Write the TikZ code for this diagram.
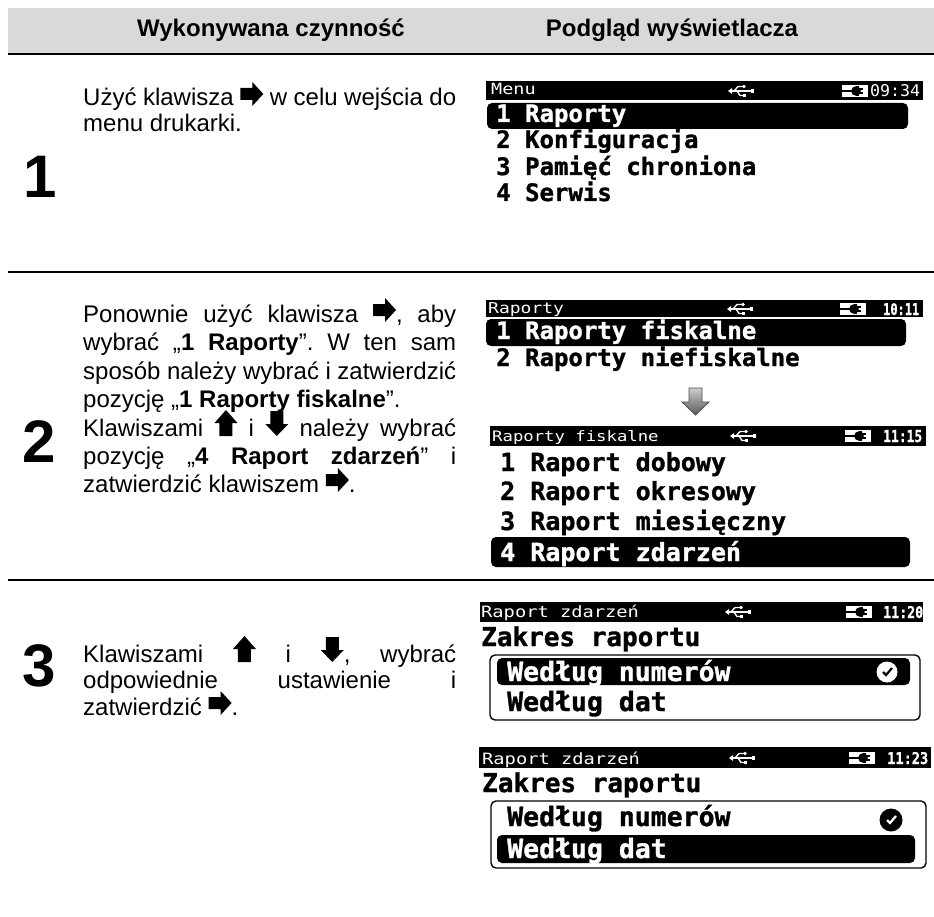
\documentclass[tikz,border=0pt]{standalone}
\usepackage{fontspec}
\usepackage{graphicx}
\setmainfont{Liberation Sans}
\newfontfamily\lcd[BoldFeatures={FakeBold=1.2}]{DejaVu Sans Mono}
\newfontfamily\lcdt[FakeStretch=1.2]{DejaVu Sans Mono}
\newcommand{\arR}{\tikz[baseline=-12pt,x=1pt,y=1pt]\fill[black] (-11,-6)--(1,-6)--(1,-12)--(12,0)--(1,12)--(1,6)--(-11,6)--cycle;}
\newcommand{\arU}{\tikz[baseline=0pt,x=1pt,y=1pt]\fill[black] (-6.5,0)--(-6.5,13)--(-11.5,13)--(0,26)--(11.5,13)--(6.5,13)--(6.5,0)--cycle;}
\newcommand{\arD}{\tikz[baseline=0pt,x=1pt,y=1pt]\fill[black] (-6.5,25)--(-6.5,12)--(-11.5,12)--(0,0)--(11.5,12)--(6.5,12)--(6.5,25)--cycle;}
\tikzset{x=1pt,y=-1pt,
 body/.style={anchor=base west,inner sep=0pt,font=\fontsize{24}{24}\selectfont\frenchspacing},
 head/.style={anchor=base,inner sep=0pt,font=\fontsize{24}{24}\selectfont\bfseries},
 stepnum/.style={anchor=base,inner sep=0pt,font=\fontsize{60}{60}\selectfont\bfseries},
 rule/.style={line width=2pt,black},
 lcdbig/.style={anchor=base west,inner sep=0pt,font=\fontsize{#1}{#1}\lcd\bfseries},
 lcdbig/.default=24,
 lcdtitle/.style={anchor=base west,inner sep=0pt,text=white,font=\fontsize{#1}{#1}\lcdt},
 lcdtime/.style={anchor=base west,inner sep=0pt,text=white,font=\fontsize{16}{16}\lcd},
 barfill/.style={fill=black},
 selbar/.style={fill=black,rounded corners=5pt},
 frameline/.style={draw=black,line width=1.4pt,rounded corners=5pt},
 usbline/.style={draw=white,line width=1.4pt},
}
\newcommand{\jl}[1]{\makebox[373pt][s]{#1}}
% USB symbol, 26x12
\newcommand{\usbicon}[2]{%
 \begin{scope}[shift={(#1,#2)}]
  \draw[usbline] (1,6) -- (24,6);
  \fill[white] (0,6) -- (4,3) -- (4,9) -- cycle;
  \fill[white] (22.5,3.8) rectangle (26,8.2);
  \draw[usbline] (6,6) -- (10,1.5) -- (15,1.5);
  \fill[white] (16,1.5) circle (1.8);
  \draw[usbline] (9,6) -- (12,10.5) -- (16,10.5);
  \fill[white] (15,9) rectangle (18,12);
 \end{scope}}
% plug symbol, 26x12
\newcommand{\plugicon}[2]{%
 \begin{scope}[shift={(#1,#2)}]
  \fill[white] (0,0) rectangle (26,12);
  \fill[black] (0,5) rectangle (11,7);
  \fill[black] (14,6) circle (4.8);
  \fill[black] (14,1.2) rectangle (17,10.8);
  \fill[black] (17,2.8) rectangle (20.5,4.8);
  \fill[black] (17,7.2) rectangle (20.5,9.2);
 \end{scope}}
\newcommand{\okmark}[5]{%
 \fill[#4] (#1,#2) circle (#3);
 \draw[#5,line width=2.2pt] (#1-4,#2) -- (#1-1,#2+3) -- (#1+5,#2-4);}
\begin{document}
\begin{tikzpicture}
\useasboundingbox (0,0) rectangle (934,917);
\fill[white] (0,0) rectangle (934,917);
\fill[black!15] (8,8) rectangle (934,53);
\draw[rule] (8,54) -- (934,54);
\draw[rule] (8,272) -- (934,272);
\draw[rule] (8,580) -- (934,580);
\node[head] (h1) at (271,37) {Wykonywana czynność};
\node[head] (h2) at (672,37) {Podgląd wyświetlacza};
\node[stepnum] (n1) at (40,198) {1};
\node[stepnum] (n2) at (39,462) {2};
\node[stepnum] (n3) at (39,686) {3};
\node[body] (a1) at (83,106) {\jl{Użyć klawisza \arR{} w celu wejścia do}};
\node[body] (a2) at (83,132) {menu drukarki.};
\node[body] (b1) at (83,322) {\jl{Ponownie użyć klawisza \arR, aby}};
\node[body] (b2) at (83,350) {\jl{wybrać „\textbf{1 Raporty}”. W ten sam}};
\node[body] (b3) at (83,379) {\jl{sposób należy wybrać i zatwierdzić}};
\node[body] (b4) at (83,407) {pozycję „\textbf{1 Raporty fiskalne}”.};
\node[body] (b5) at (83,436) {\jl{Klawiszami \arU{} i \arD{} należy wybrać}};
\node[body] (b6) at (83,464) {\jl{pozycję „\textbf{4 Raport zdarzeń}” i}};
\node[body] (b7) at (83,492) {zatwierdzić klawiszem \arR.};
\node[body] (c1) at (83,662) {\jl{Klawiszami \arU{} i \arD, wybrać}};
\node[body] (c2) at (83,688) {\jl{odpowiednie ustawienie i}};
\node[body] (c3) at (83,715) {zatwierdzić \arR.};
% screen 1
\fill[barfill] (486,81) rectangle (923,100);
\node[lcdtitle=15.4] (s1t) at (491,95) {Menu};
\usbicon{728}{85}
\plugicon{842}{85}
\node[lcdtime] (s1c) at (870,97) {\resizebox{50pt}{12pt}{09:34}};
\fill[selbar] (487,103) rectangle (908,129);
\node[lcdbig,text=white] (s1a) at (496,122) {1 Raporty};
\node[lcdbig] (s1b) at (496,148) {2 Konfiguracja};
\node[lcdbig] (s1d) at (496,175) {3 Pamięć chroniona};
\node[lcdbig] (s1e) at (496,201) {4 Serwis};
% screen 2
\fill[barfill] (486,300) rectangle (923,317);
\node[lcdtitle=15] (s2t) at (488,313) {Raporty};
\usbicon{727}{303}
\plugicon{840}{303}
\node[lcdtime,font=\fontsize{16}{16}\lcd\bfseries] (s2c) at (883,315) {\resizebox{36pt}{12pt}{10:11}};
\fill[selbar] (486,319) rectangle (906,346);
\node[lcdbig,text=white] (s2a) at (496,339) {1 Raporty fiskalne};
\node[lcdbig] (s2b) at (496,366) {2 Raporty niefiskalne};
% grey arrow
\shade[top color=black!20,bottom color=black!65,draw=black!70,line width=.8pt]
 (689,388) -- (702,388) -- (702,402) -- (709,402) -- (695.5,415) -- (682,402) -- (689,402) -- cycle;
% screen 3
\fill[barfill] (490,426) rectangle (926,446);
\node[lcdtitle=14.4] (s3t) at (492,441) {Raporty fiskalne};
\usbicon{730}{430}
\plugicon{845}{430}
\node[lcdtime,font=\fontsize{16}{16}\lcd\bfseries] (s3c) at (883,442) {\resizebox{39pt}{12pt}{11:15}};
\node[lcdbig=25] (s3a) at (500,471) {1 Raport dobowy};
\node[lcdbig=25] (s3b) at (500,500) {2 Raport okresowy};
\node[lcdbig=25] (s3d) at (500,530) {3 Raport miesięczny};
\fill[selbar] (491,537) rectangle (910,567);
\node[lcdbig=25,text=white] (s3e) at (500,561) {4 Raport zdarzeń};
% screen 4
\fill[barfill] (480,602) rectangle (923,622);
\node[lcdtitle=15.6] (s4t) at (481,617) {Raport zdarzeń};
\usbicon{725}{606}
\plugicon{846}{606}
\node[lcdtime,font=\fontsize{16}{16}\lcd\bfseries] (s4c) at (883,618) {\resizebox{40pt}{12pt}{11:20}};
\node[lcdbig=26] (s4z) at (481,646) {Zakres raportu};
\draw[frameline] (490,655) rectangle (920,720);
\fill[selbar] (497,658) rectangle (910,685);
\node[lcdbig=26.5,text=white] (s4a) at (507,681) {Według numerów};
\okmark{887}{672}{10.5}{white}{black}
\node[lcdbig=26.5] (s4b) at (507,711) {Według dat};
% screen 5
\fill[barfill] (479,747) rectangle (931,768);
\node[lcdtitle=15.6] (s5t) at (482,764) {Raport zdarzeń};
\usbicon{729}{752}
\plugicon{849}{752}
\node[lcdtime,font=\fontsize{16}{16}\lcd\bfseries] (s5c) at (887,764) {\resizebox{41pt}{12pt}{11:23}};
\node[lcdbig=26] (s5z) at (482,792) {Zakres raportu};
\draw[frameline] (491,801) rectangle (926,868);
\node[lcdbig=26.5] (s5a) at (507,826) {Według numerów};
\okmark{891}{820}{11.5}{black}{white}
\fill[selbar] (497,835) rectangle (915,863);
\node[lcdbig=26.5,text=white] (s5b) at (507,858) {Według dat};
\end{tikzpicture}
\end{document}
